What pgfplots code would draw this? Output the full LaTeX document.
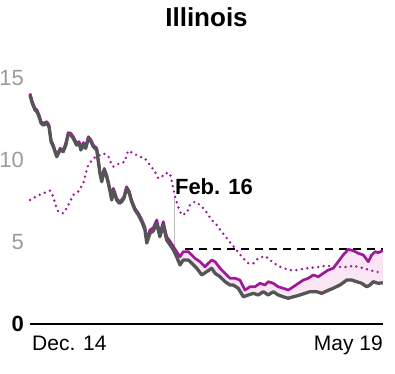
\documentclass[border=0pt]{standalone}
\usepackage{fontspec}
\setmainfont{Liberation Sans}
\usepackage{pgfplots}
\usepackage{pgfplotstable}
\pgfplotsset{compat=1.18}
\usepgfplotslibrary{fillbetween}
\definecolor{mag}{RGB}{158,24,152}
\definecolor{grayline}{RGB}{85,85,85}
\definecolor{pinkfill}{RGB}{249,223,243}
\definecolor{ticklab}{RGB}{155,155,155}
\definecolor{baseline}{RGB}{195,195,195}

\pgfplotstableread{
d v
0 13.96
1.0 13.46
2.2 13.05
3.1 12.95
4.0 12.64
4.9 12.24
5.9 12.13
7.4 12.24
8.4 12.03
9.3 11.12
10.3 10.81
11.8 10.20
13.3 10.61
14.7 10.51
15.8 10.91
16.9 11.57
18.1 11.52
19.1 11.32
20.6 10.91
21.7 11.02
22.5 10.61
23.6 10.96
24.6 10.71
25.8 11.32
26.8 11.16
28.0 10.81
29.5 10.61
30.2 9.90
30.9 9.19
31.7 8.68
32.8 9.39
33.9 8.98
34.6 8.58
35.4 8.07
36.1 7.56
36.8 8.17
37.6 7.87
38.3 7.56
39.5 7.36
40.5 7.46
41.5 7.66
42.7 8.27
43.9 7.97
44.9 7.46
46.4 6.95
47.9 6.65
49.4 6.24
50.8 5.73
51.6 4.94
53.0 5.53
54.5 5.67
56.0 6.14
57.4 5.32
58.9 6.04
60.4 5.12
61.9 4.82
63.4 4.51
64.8 4.10
66.3 3.60
67.7 3.90
70.0 3.90
71.5 3.70
73.7 3.40
75.9 2.99
78.1 3.19
80.3 3.40
81.8 3.09
84.0 2.88
86.2 2.58
88.4 2.38
89.8 2.38
92.0 2.18
94.3 1.66
96.5 1.77
98.7 1.87
100.9 1.77
103.1 1.97
105.3 1.77
107.5 1.97
109.7 1.77
111.9 1.66
114.1 1.57
116.4 1.66
119.3 1.77
121.5 1.87
123.7 1.97
126.7 1.97
128.9 1.87
131.1 2.01
134.0 2.18
137.0 2.38
140.0 2.68
142.2 2.68
144.4 2.58
146.6 2.48
148.8 2.27
150.3 2.38
151.7 2.58
153.9 2.48
155.9 2.52
}\grayt

\pgfplotstableread{
d v
0 14.06
1.0 13.56
2.2 13.15
3.1 13.05
4.0 12.74
4.9 12.34
5.9 12.23
7.4 12.34
8.4 12.13
9.3 11.22
10.3 10.91
11.8 10.30
13.3 10.71
14.7 10.61
15.8 11.01
16.9 11.67
18.1 11.62
19.1 11.42
20.6 11.01
21.7 11.12
22.5 10.71
23.6 11.06
24.6 10.81
25.8 11.42
26.8 11.26
28.0 10.91
29.5 10.71
30.2 10.00
30.9 9.29
31.7 8.78
32.8 9.49
33.9 9.08
34.6 8.68
35.4 8.17
36.1 7.66
36.8 8.27
37.6 7.97
38.3 7.66
39.5 7.46
40.5 7.56
41.5 7.76
42.7 8.37
43.9 8.07
44.9 7.56
46.4 7.05
47.9 6.75
49.4 6.36
50.8 5.90
51.6 5.14
53.0 5.73
54.5 5.87
56.0 6.34
57.4 5.52
58.9 6.24
60.4 5.32
61.9 5.04
63.4 4.71
64.8 4.41
66.3 4.10
67.7 4.41
70.0 4.41
71.5 4.21
72.9 4.01
75.1 3.80
77.3 3.49
78.8 3.70
80.3 3.90
81.8 3.80
84.0 3.40
86.2 3.09
88.4 2.79
90.6 2.79
92.8 2.68
95.0 2.07
97.2 2.27
99.4 2.27
101.6 2.48
103.9 2.38
105.3 2.58
107.5 2.48
109.7 2.27
111.9 2.18
114.1 2.07
116.4 2.27
118.6 2.48
120.8 2.68
123.0 2.79
125.2 2.99
127.4 2.88
129.6 3.09
131.8 3.29
134.0 3.40
136.2 3.80
138.4 4.21
140.7 4.55
142.9 4.47
145.1 4.31
147.3 4.21
149.5 3.80
151.0 4.21
152.5 4.41
153.9 4.35
155.9 4.47
}\magt

\pgfplotstableread{
d v
0 7.56
2.9 7.80
5.9 7.97
8.8 8.13
10.3 7.76
11.3 7.26
12.5 6.85
14.7 6.75
16.2 7.05
17.7 7.46
19.1 7.87
21.3 8.07
23.6 8.58
24.6 9.19
25.8 9.70
28.0 10.10
32.4 10.41
34.6 10.24
35.8 9.80
36.8 9.59
39.0 9.76
42.0 9.90
42.7 10.30
43.4 10.57
45.6 10.41
48.6 10.20
50.8 10.10
53.0 9.70
55.2 9.29
56.7 8.88
58.2 8.98
59.7 9.19
61.9 9.19
64.1 7.76
65.5 7.15
67.0 6.65
69.2 6.75
70.7 7.26
72.9 7.46
75.1 7.26
77.3 6.95
80.3 6.34
82.5 6.04
84.7 5.63
87.6 5.12
90.6 4.62
93.6 4.10
96.5 3.70
98.7 3.70
100.9 4.01
103.9 4.15
106.1 3.90
109.0 3.60
111.9 3.40
114.9 3.29
117.9 3.29
122.3 3.40
126.7 3.46
130.4 3.54
133.3 3.54
138.4 3.46
142.9 3.54
145.8 3.46
148.8 3.34
152.5 3.19
155.9 3.13
}\dott

\begin{document}
\begin{tikzpicture}
\begin{axis}[at={(0,0)}, anchor=south west, scale only axis,
  width=353bp, height=246bp,
  xmin=0, xmax=156, ymin=0, ymax=15,
  hide axis, clip=false]
\addplot[draw=none, name path=gr, forget plot] table[x=d,y=v] {\grayt};
\addplot[draw=none, name path=mg, forget plot] table[x=d,y=v] {\magt};
% baseline
\addplot[baseline, line width=1.1bp] coordinates {(0,0) (156,0)};
% dotted series
\addplot[mag, line width=2.7bp, line cap=round, dash pattern=on 0bp off 5.5bp] table[x=d,y=v] {\dott};
% shaded band
\addplot[pinkfill, fill opacity=0.8, draw=none] fill between[of=mg and gr, soft clip={domain=48:156}];
% Feb 16 marker line
\addplot[color={rgb,255:red,190;green,190;blue,190}, line width=0.9bp] coordinates {(63.8,4.5) (63.8,7.7)};
% dashed level
\addplot[black, line width=1.8bp, dash pattern=on 8bp off 6bp] coordinates {(68.5,4.55) (156,4.55)};
% lines
\addplot[mag, line width=2.7bp, line join=round] table[x=d,y=v] {\magt};
\addplot[grayline, line width=3.3bp, line join=round] table[x=d,y=v] {\grayt};
% tick labels
\node[anchor=east, inner sep=0pt, text=ticklab, font=\fontsize{22bp}{22bp}\selectfont, xshift=-6bp] at (axis cs:0,15) {15};
\node[anchor=east, inner sep=0pt, text=ticklab, font=\fontsize{22bp}{22bp}\selectfont, xshift=-6bp] at (axis cs:0,10) {10};
\node[anchor=east, inner sep=0pt, text=ticklab, font=\fontsize{22bp}{22bp}\selectfont, xshift=-6bp] at (axis cs:0,5) {5};
\node[anchor=east, inner sep=0pt, text=black, font=\bfseries\fontsize{22bp}{22bp}\selectfont, xshift=-6bp] at (axis cs:0,0) {0};
\node[anchor=base west, inner sep=0pt, font=\fontsize{21bp}{21bp}\selectfont, xshift=2bp, yshift=-26bp] at (axis cs:0,0) {Dec. 14};
\node[anchor=base east, inner sep=0pt, font=\fontsize{21bp}{21bp}\selectfont, yshift=-26bp] at (axis cs:156,0) {May 19};
\node[anchor=base west, inner sep=0pt, font=\bfseries\fontsize{22bp}{22bp}\selectfont, xshift=0.5bp] at (axis cs:63.8,7.87) {Feb. 16};
\node[anchor=base, inner sep=0pt, font=\bfseries\fontsize{26bp}{26bp}\selectfont] at (axis cs:78,18.17) {Illinois};
\end{axis}
\pgfresetboundingbox
\path[use as bounding box] (-30bp,-50bp) rectangle (365bp,324bp);
\end{tikzpicture}
\end{document}
